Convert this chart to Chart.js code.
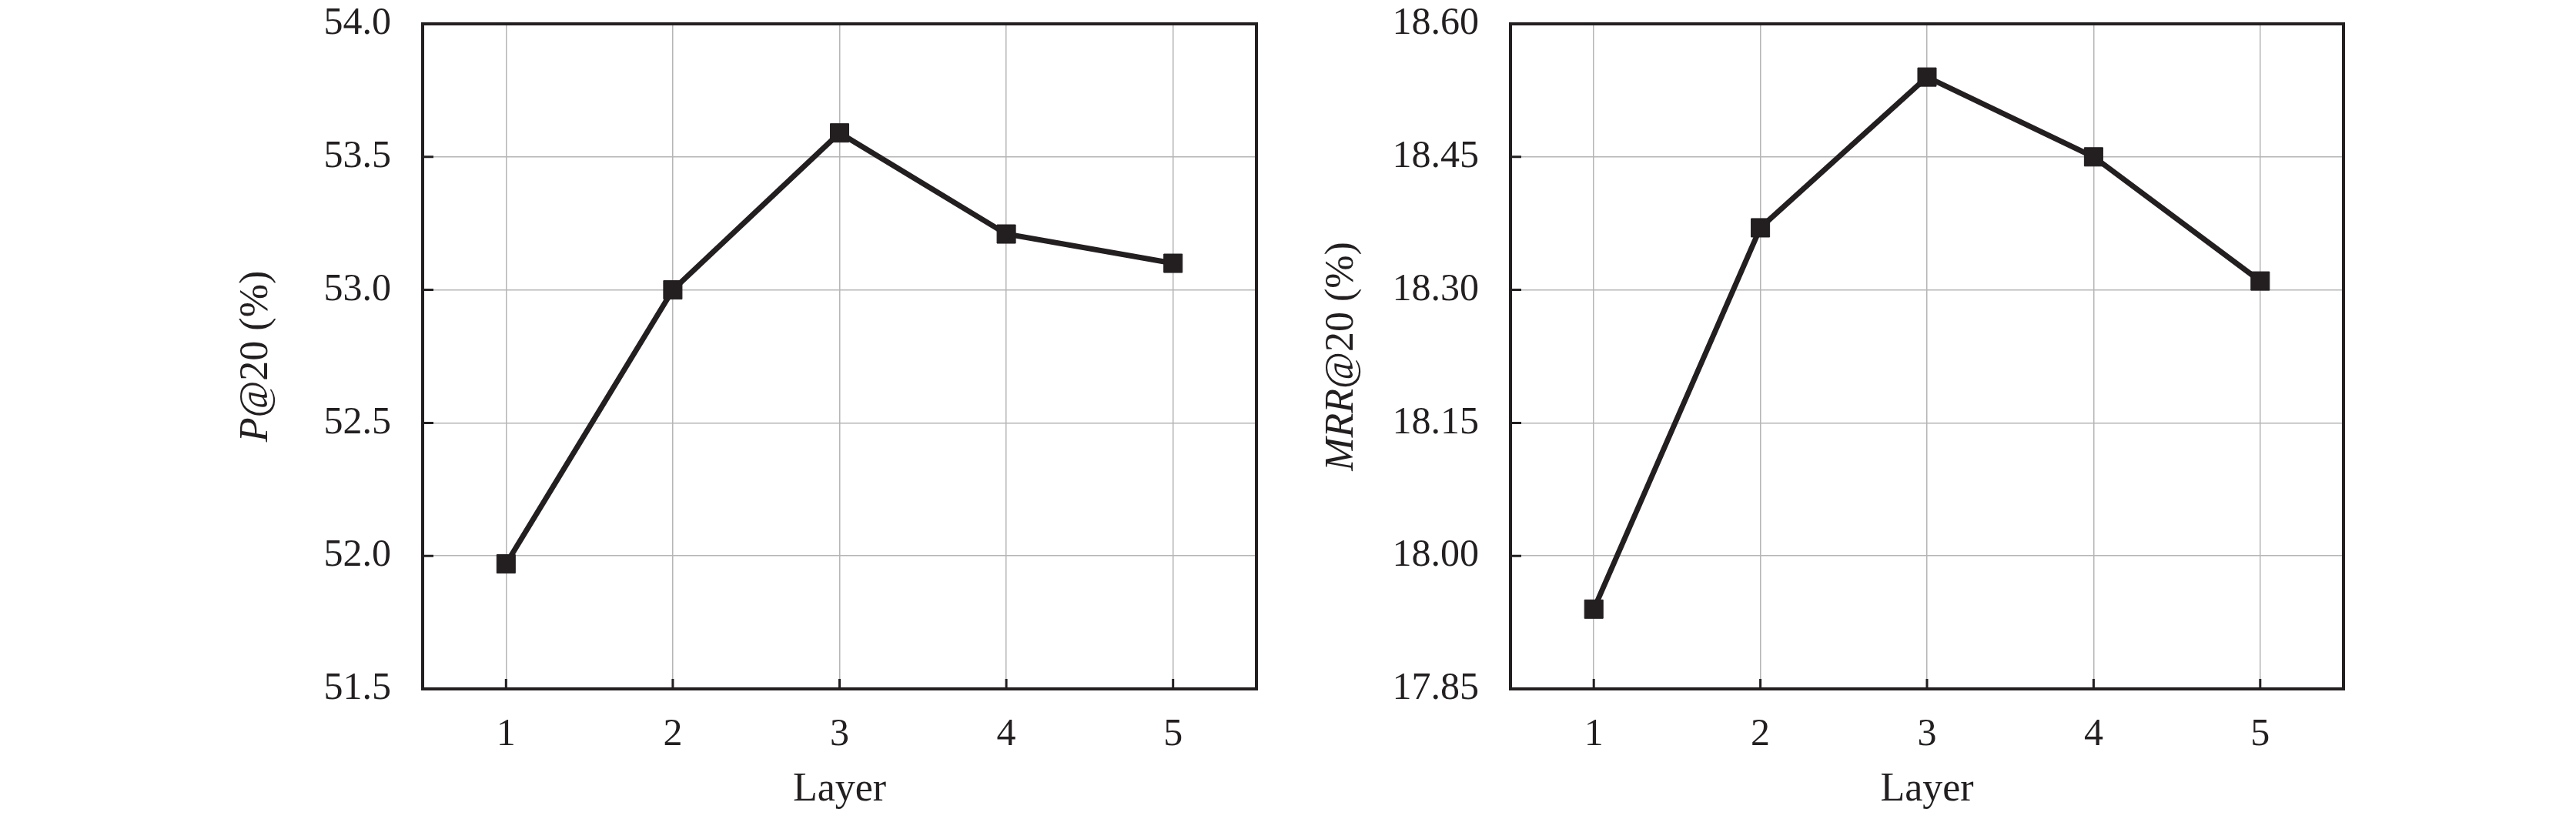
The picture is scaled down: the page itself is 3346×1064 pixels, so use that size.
<!DOCTYPE html>
<html>
<head>
<meta charset="utf-8">
<script src="https://cdn.jsdelivr.net/npm/chart.js@4.4.1/dist/chart.umd.min.js"></script>
<style>
  html, body { margin: 0; padding: 0; background: #fff; }
  body { width: 3346px; height: 1064px; position: relative; overflow: hidden; }
  canvas { position: absolute; top: 0; }
  #chartP { left: 0; }
  #chartM { left: 1673px; }
</style>
</head>
<body>
<canvas id="chartP" width="1673" height="1064"></canvas>
<canvas id="chartM" width="1673" height="1064"></canvas>
<script>
// datos
const layers = ['1', '2', '3', '4', '5'];
const precision20 = [51.97, 53.00, 53.59, 53.21, 53.10];
const mrr20 = [17.94, 18.37, 18.54, 18.45, 18.31];
const precisionTicks = [51.5, 52.0, 52.5, 53.0, 53.5, 54.0];
const mrrTicks = [17.85, 18.00, 18.15, 18.30, 18.45, 18.60];

const INK = '#231f20';
const GRID = '#b5b5b5';
const FONT = "'Liberation Serif', 'Times New Roman', serif";

// marco, marcas hacia dentro y titulo del eje Y (parte en cursiva)
const framePlugin = {
    id: 'frame',
    beforeDatasetsDraw(chart, args, opts) {
        const ctx = chart.ctx;
        const a = chart.chartArea;
        const xs = chart.scales.x;
        const ys = chart.scales.y;
        ctx.save();
        ctx.strokeStyle = INK;

        // marcas
        ctx.lineWidth = 3;
        ctx.beginPath();
        ys.ticks.forEach(function (t) {
            const py = ys.getPixelForValue(t.value);
            ctx.moveTo(a.left, py);
            ctx.lineTo(a.left + 14, py);
        });
        xs.ticks.forEach(function (t, i) {
            const px = xs.getPixelForTick(i);
            ctx.moveTo(px, a.bottom);
            ctx.lineTo(px, a.bottom - 13);
        });
        ctx.stroke();

        // marco
        ctx.lineWidth = 4;
        ctx.strokeRect(a.left, a.top, a.right - a.left, a.bottom - a.top);

        // titulo Y
        const parts = opts.title || [];
        let total = 0;
        parts.forEach(function (p) {
            ctx.font = (p.italic ? 'italic ' : '') + '52px ' + FONT;
            p.w = ctx.measureText(p.text).width;
            total += p.w;
        });
        ctx.translate(opts.titleX, (a.top + a.bottom) / 2);
        ctx.rotate(-Math.PI / 2);
        ctx.fillStyle = INK;
        ctx.textBaseline = 'middle';
        ctx.textAlign = 'left';
        let cx = -total / 2;
        parts.forEach(function (p) {
            ctx.font = (p.italic ? 'italic ' : '') + '52px ' + FONT;
            ctx.fillText(p.text, cx, 0);
            cx += p.w;
        });
        ctx.restore();
    }
};

function makeChart(id, values, ticks, decimals, titleParts, titleX, axisWidth, rightPad) {
    return new Chart(document.getElementById(id), {
        type: 'line',
        data: {
            labels: layers,
            datasets: [{
                data: values,
                borderColor: INK,
                borderWidth: 7,
                backgroundColor: INK,
                pointStyle: 'rect',
                pointRadius: 17,
                pointBackgroundColor: INK,
                pointBorderColor: INK,
                pointBorderWidth: 1,
                tension: 0,
                clip: false
            }]
        },
        options: {
            responsive: false,
            devicePixelRatio: 1,
            animation: false,
            layout: { padding: { top: 31, right: rightPad, bottom: 0, left: 0 } },
            plugins: {
                legend: { display: false },
                tooltip: { enabled: false },
                frame: { title: titleParts, titleX: titleX }
            },
            scales: {
                x: {
                    type: 'category',
                    offset: true,
                    grid: { color: GRID, lineWidth: 1.5, drawTicks: false, offset: false },
                    border: { display: false },
                    ticks: { color: INK, font: { family: FONT, size: 50 }, padding: 30 },
                    title: {
                        display: true,
                        text: 'Layer',
                        color: INK,
                        font: { family: FONT, size: 52 },
                        padding: { top: 0, bottom: 6 }
                    },
                    afterFit: function (s) {
                        s.height = 169;
                        s.paddingLeft = 0;
                        s.paddingRight = 0;
                    }
                },
                y: {
                    min: ticks[0],
                    max: ticks[ticks.length - 1],
                    grid: { color: GRID, lineWidth: 1.5, drawTicks: false },
                    border: { display: false },
                    ticks: {
                        color: INK,
                        font: { family: FONT, size: 50 },
                        padding: 41,
                        callback: function (v) { return Number(v).toFixed(decimals); }
                    },
                    afterBuildTicks: function (s) {
                        s.ticks = ticks.map(function (v) { return { value: v }; });
                    },
                    afterFit: function (s) {
                        s.width = axisWidth;
                        s.paddingTop = 0;
                        s.paddingBottom = 0;
                    }
                }
            }
        },
        plugins: [framePlugin]
    });
}

makeChart('chartP', precision20, precisionTicks, 1,
    [{ text: 'P', italic: true }, { text: '@20 (%)', italic: false }],
    333, 549, 41);

makeChart('chartM', mrr20, mrrTicks, 2,
    [{ text: 'MRR', italic: true }, { text: '@20 (%)', italic: false }],
    70, 289, 302);
</script>
</body>
</html>
